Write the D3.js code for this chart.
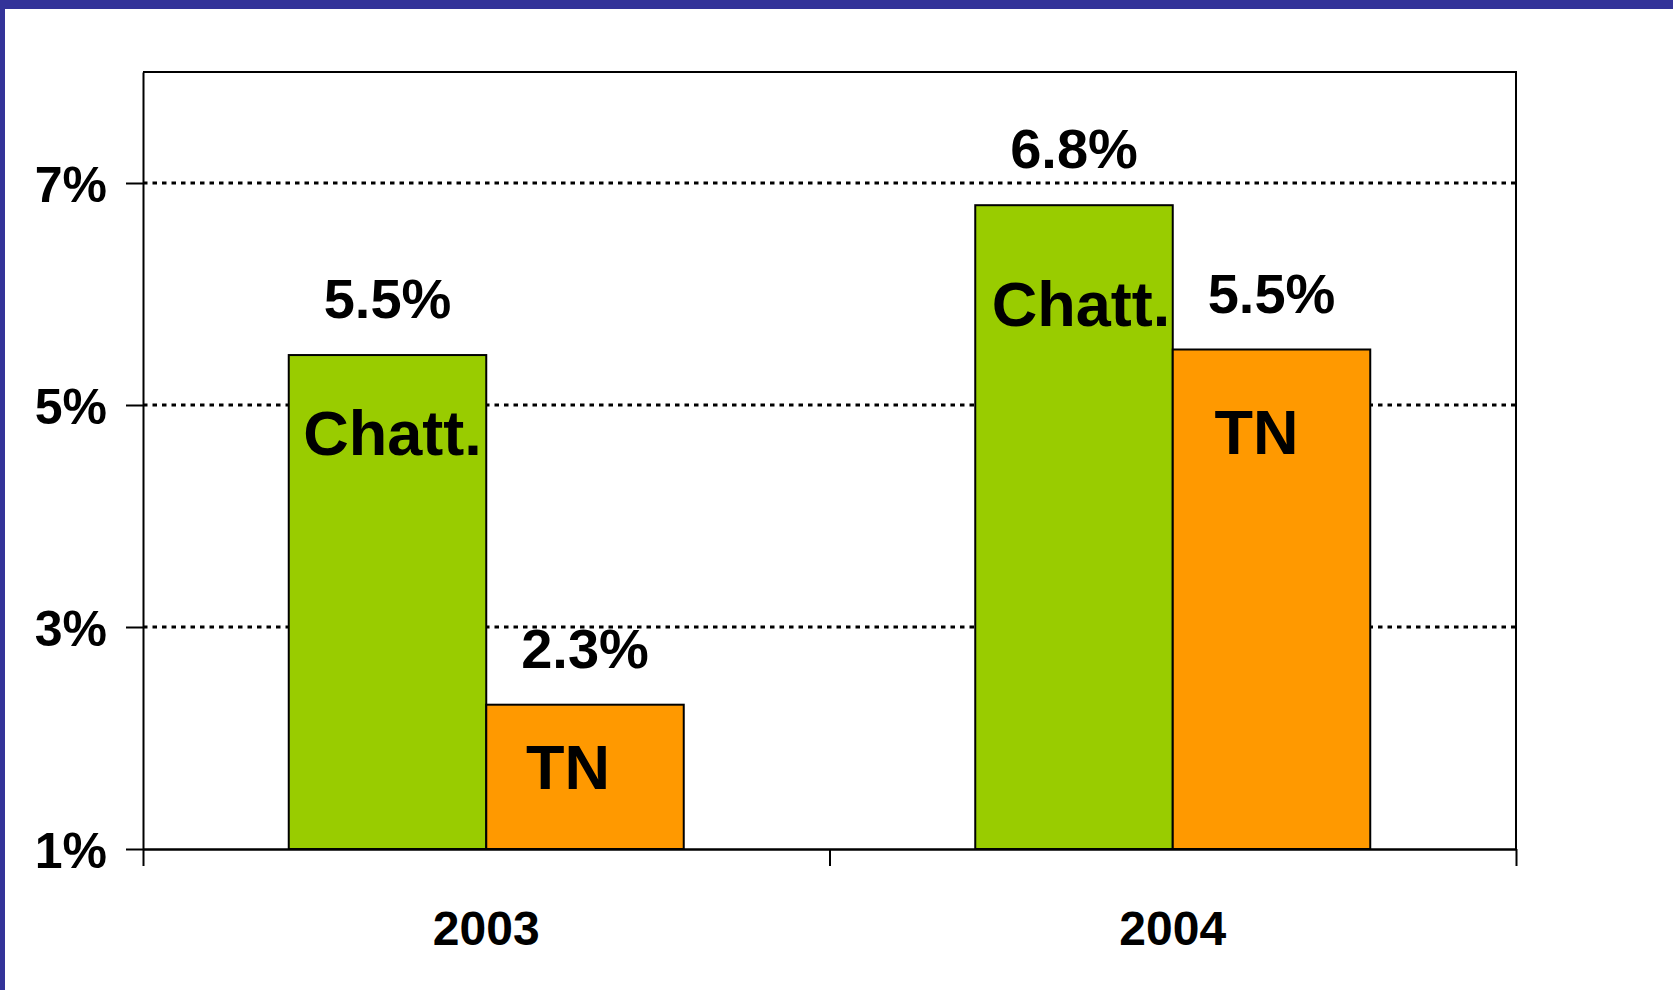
<!DOCTYPE html>
<html>
  <head>
    <script src="https://d3js.org/d3.v7.min.js" charset="utf-8"></script>
    <meta charset="UTF-8">
    <title>Chatt. vs TN growth</title>
    <style>
      html, body { margin: 0; padding: 0; background: #fff; }
      svg { display: block; }
      text { font-family: "Liberation Sans", Arial, sans-serif; font-weight: bold; fill: #000; }
    </style>
  </head>
  <body>
    <svg class="chart"></svg>
    <script type="text/javascript">

     // data
     var years = ["2003", "2004"];
     var series = ["Chatt.", "TN"];
     var chattValues = [5.45, 6.8];
     var tnValues = [2.3, 5.5];
     var chattLabels = ["5.5%", "6.8%"];
     var tnLabels = ["2.3%", "5.5%"];
     var yTicks = [1, 3, 5, 7];
     var colors = ["#99cc00", "#ff9900"];

     var width = 1673,
         height = 990,
         margin = {top: 72, right: 157, bottom: 141, left: 143};

     // hand placed labels inside the bars (px below bar top, px shift from bar centre)
     var insideDrop = [[100, 84], [121, 104]];
     var insideShift = [[5, -17], [7, -15]];

     var chart = d3.select(".chart")
                   .attr("width", width)
                   .attr("height", height);

     chart.append("rect")
          .attr("width", width).attr("height", height)
          .attr("fill", "#fff");

     // blue slide frame
     chart.append("rect").attr("x", 0).attr("y", 0)
          .attr("width", width).attr("height", 9).attr("fill", "#333399");
     chart.append("rect").attr("x", 0).attr("y", 0)
          .attr("width", 5).attr("height", height).attr("fill", "#333399");

     var x0 = d3.scaleBand()
                .domain(years)
                .range([margin.left, width - margin.right])
                .padding(0);

     var x1 = d3.scaleBand()
                .domain(series)
                .range([0, x0.bandwidth()])
                .paddingInner(0)
                .paddingOuter(0.738);

     var y = d3.scaleLinear()
               .domain([1, 8])
               .range([height - margin.bottom, margin.top]);

     var rows = years.map(function(yr, i) {
         return [
             {year: yr, i: i, s: 0, key: series[0], value: chattValues[i], label: chattLabels[i]},
             {year: yr, i: i, s: 1, key: series[1], value: tnValues[i], label: tnLabels[i]}
         ];
     });
     var flat = [].concat.apply([], rows);

     // gridlines
     chart.append("g")
          .attr("class", "grid")
          .selectAll("line")
          .data(yTicks.filter(function(d) { return d > 1; }))
          .enter().append("line")
          .attr("x1", margin.left)
          .attr("x2", width - margin.right)
          .attr("y1", function(d) { return y(d); })
          .attr("y2", function(d) { return y(d); })
          .attr("stroke", "#000")
          .attr("stroke-width", 3)
          .attr("stroke-dasharray", "4.5,5");

     // plot frame top + right
     chart.append("path")
          .attr("d", "M" + margin.left + "," + y(8) + "H" + (width - margin.right) + "V" + y(1))
          .attr("fill", "none")
          .attr("stroke", "#000")
          .attr("stroke-width", 2);

     // bars
     chart.append("g")
          .attr("class", "bars")
          .selectAll("rect")
          .data(flat)
          .enter().append("rect")
          .attr("x", function(d) { return x0(d.year) + x1(d.key); })
          .attr("y", function(d) { return y(d.value); })
          .attr("width", x1.bandwidth())
          .attr("height", function(d) { return y(1) - y(d.value); })
          .attr("fill", function(d) { return colors[d.s]; })
          .attr("stroke", "#000")
          .attr("stroke-width", 2);

     // value labels above bars
     chart.append("g")
          .attr("class", "values")
          .selectAll("text")
          .data(flat)
          .enter().append("text")
          .attr("x", function(d) { return x0(d.year) + x1(d.key) + x1.bandwidth() / 2; })
          .attr("y", function(d) { return y(d.value) - 37; })
          .attr("text-anchor", "middle")
          .attr("font-size", "56px")
          .text(function(d) { return d.label; });

     // series names inside bars
     chart.append("g")
          .attr("class", "names")
          .selectAll("text")
          .data(flat)
          .enter().append("text")
          .attr("x", function(d) {
              return x0(d.year) + x1(d.key) + x1.bandwidth() / 2 + insideShift[d.i][d.s];
          })
          .attr("y", function(d) { return y(d.value) + insideDrop[d.i][d.s]; })
          .attr("text-anchor", "middle")
          .attr("font-size", "63px")
          .text(function(d) { return d.key; });

     // y axis
     var yAxis = chart.append("g")
          .attr("transform", "translate(" + margin.left + ",0)")
          .call(d3.axisLeft(y)
                  .tickValues(yTicks)
                  .tickSize(17)
                  .tickSizeOuter(0)
                  .tickPadding(19)
                  .tickFormat(function(d) { return d + "%"; }));
     yAxis.select(".domain").attr("stroke", "#000").attr("stroke-width", 2);
     yAxis.selectAll(".tick line").attr("stroke", "#000").attr("stroke-width", 2);
     yAxis.selectAll(".tick text")
          .attr("font-size", "50px")
          .attr("font-family", "'Liberation Sans', Arial, sans-serif")
          .attr("font-weight", "bold")
          .attr("fill", "#000")
          .attr("dy", "0.36em");

     // x axis: ticks at category boundaries
     var xEdges = d3.scaleLinear()
                    .domain([0, years.length])
                    .range(x0.range());
     var xAxis = chart.append("g")
          .attr("transform", "translate(0," + y(1) + ")")
          .call(d3.axisBottom(xEdges)
                  .tickValues(d3.range(years.length + 1))
                  .tickSize(17)
                  .tickSizeOuter(0)
                  .tickFormat(""));
     xAxis.select(".domain").attr("stroke", "#000").attr("stroke-width", 2.5);
     xAxis.selectAll(".tick line").attr("stroke", "#000").attr("stroke-width", 2);

     chart.append("g")
          .attr("class", "years")
          .selectAll("text")
          .data(years)
          .enter().append("text")
          .attr("x", function(d) { return x0(d) + x0.bandwidth() / 2; })
          .attr("y", y(1) + 96)
          .attr("text-anchor", "middle")
          .attr("font-size", "48px")
          .text(function(d) { return d; });

    </script>
  </body>
</html>
